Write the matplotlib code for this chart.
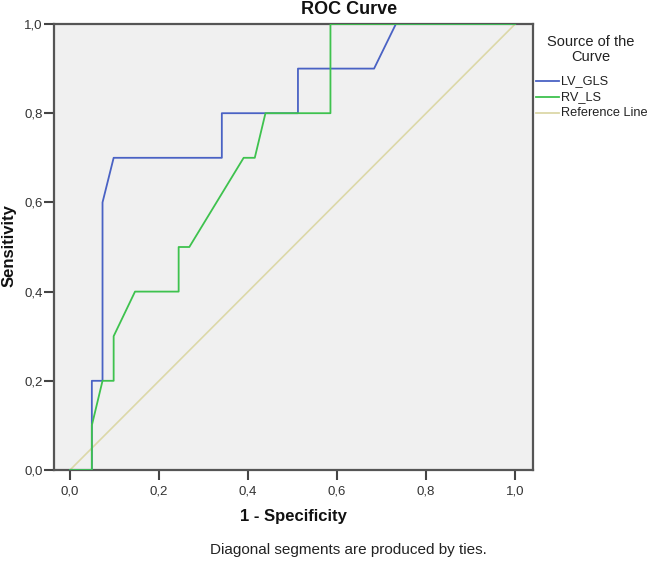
import matplotlib
matplotlib.use("Agg")
import matplotlib.pyplot as plt
from matplotlib.lines import Line2D

plt.rcParams['font.family'] = ['Liberation Sans', 'DejaVu Sans']

# Data
lv_gls_fpr = [0.0, 0.049, 0.049, 0.073, 0.073, 0.098, 0.341, 0.341, 0.512, 0.512, 0.683, 0.732, 1.0]
lv_gls_tpr = [0.0, 0.0, 0.2, 0.2, 0.6, 0.7, 0.7, 0.8, 0.8, 0.9, 0.9, 1.0, 1.0]

rv_ls_fpr = [0.0, 0.049, 0.049, 0.073, 0.098, 0.098, 0.146, 0.244, 0.244, 0.268, 0.390, 0.415, 0.439, 0.585, 0.585, 1.0]
rv_ls_tpr = [0.0, 0.0, 0.1, 0.2, 0.2, 0.3, 0.4, 0.4, 0.5, 0.5, 0.7, 0.7, 0.8, 0.8, 1.0, 1.0]

ref_x = [0.0, 1.0]
ref_y = [0.0, 1.0]

tick_vals = [0.0, 0.2, 0.4, 0.6, 0.8, 1.0]
tick_labels = ['0,0', '0,2', '0,4', '0,6', '0,8', '1,0']
legend_labels = ['LV_GLS', 'RV_LS', 'Reference Line']

blue = '#4a62c4'
green = '#3ec24e'
khaki = '#dcd8a8'

W, H = 649, 562
fig = plt.figure(figsize=(W/100, H/100), dpi=100)
ax = fig.add_axes([54/W, 1-470/H, (533-54)/W, (470-24)/H])
ax.set_facecolor('#f0f0f0')

ax.plot(ref_x, ref_y, color=khaki, lw=1.2, zorder=2)
ax.plot(lv_gls_fpr, lv_gls_tpr, color=blue, lw=1.3, zorder=3)
ax.plot(rv_ls_fpr, rv_ls_tpr, color=green, lw=1.3, zorder=4)

ax.set_xlim(-0.036, 1.04)
ax.set_ylim(0, 1)
ax.set_xticks(tick_vals)
ax.set_xticklabels(tick_labels)
ax.set_yticks(tick_vals)
ax.set_yticklabels(tick_labels)
ax.tick_params(direction='out', length=7, width=1.5, color='#444444', labelsize=9.5, labelcolor='#333333', pad=1)
ax.tick_params(axis='x', pad=4)
for s in ax.spines.values():
    s.set_color('#555555')
    s.set_linewidth(1.6)

fig.text(293/W, 1-516/H, '1 - Specificity', ha='center', va='center', fontsize=12, fontweight='bold', color='#111111')
fig.text(9/W, 1-246/H, 'Sensitivity', ha='center', va='center', rotation=90, fontsize=12, fontweight='bold', color='#111111')
fig.text(349/W, 1-10/H, 'ROC Curve', ha='center', va='center', fontsize=13, fontweight='bold', color='#111111')

fig.text(348/W, 1-550/H, 'Diagonal segments are produced by ties.', ha='center', va='center', fontsize=11, color='#222222')

# Legend
fig.text(591/W, 1-42/H, 'Source of the', ha='center', va='center', fontsize=10.5, color='#222222')
fig.text(591/W, 1-57/H, 'Curve', ha='center', va='center', fontsize=10.5, color='#222222')
for lab, col, yy in zip(legend_labels, [blue, green, khaki], [81, 97, 113]):
    fig.add_artist(Line2D([536/W, 559/W], [1-yy/H, 1-yy/H], color=col, lw=1.3, transform=fig.transFigure))
    fig.text(561/W, 1-yy/H, lab, ha='left', va='center', fontsize=9.2, color='#222222')

fig.savefig('out.png', dpi=100)
